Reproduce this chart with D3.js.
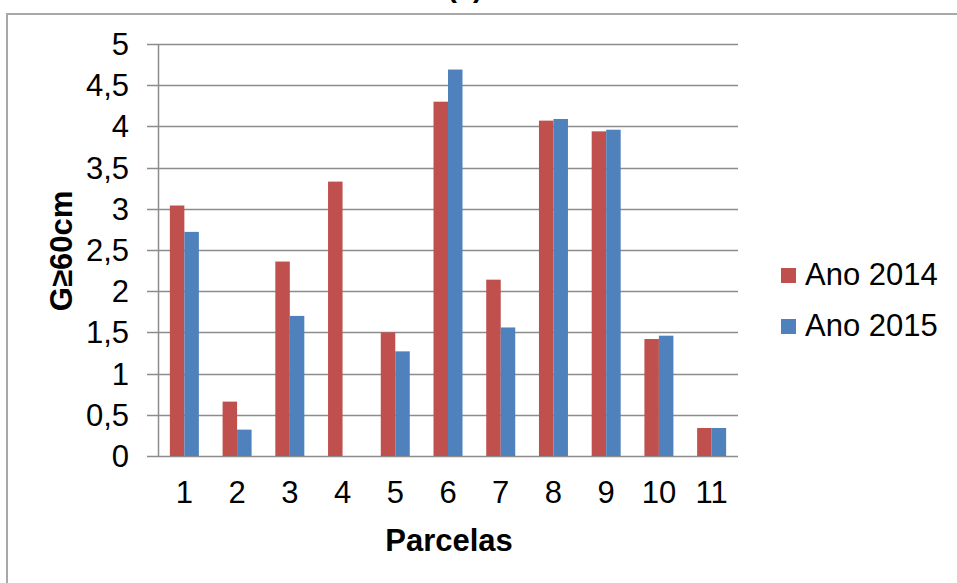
<!DOCTYPE html>
<html>
<head>
<meta charset="utf-8">
<script src="https://cdn.jsdelivr.net/npm/d3@7"></script>
<style>
    body { margin: 0; background: #fff; }
    svg { display: block; }
    text { font-family: "Liberation Sans", Arial, sans-serif; fill: #000; }
</style>
</head>
<body>
<div id="chart"></div>
<script>

// values
let parcelas = ["1", "2", "3", "4", "5", "6", "7", "8", "9", "10", "11"];
let ano2014 = [3.04, 0.66, 2.36, 3.33, 1.50, 4.30, 2.14, 4.07, 3.94, 1.42, 0.34];
let ano2015 = [2.72, 0.32, 1.70, 0, 1.27, 4.69, 1.56, 4.09, 3.96, 1.46, 0.34];
let seriesNames = ["Ano 2014", "Ano 2015"];
let seriesColors = ["#C0504D", "#4F81BD"];
let yTicks = [0, 0.5, 1, 1.5, 2, 2.5, 3, 3.5, 4, 4.5, 5];

class GroupedBars {
    constructor(_parentElement) {
        this.parentElement = _parentElement;
        this.initVis();
    }

    initVis() {
        let vis = this;

        vis.width = 957;
        vis.height = 583;

        vis.svg = d3.select("#" + vis.parentElement).append("svg")
            .attr("width", vis.width)
            .attr("height", vis.height);

        // outer frame of the chart area (only top & left show)
        vis.svg.append("path")
            .attr("d", "M7,590 L7,14 L960,14")
            .attr("fill", "none")
            .attr("stroke", "#a8a8a8")
            .attr("stroke-width", 2);

        // title, mostly cropped at the top edge
        vis.svg.append("text")
            .attr("x", 465)
            .attr("y", -3)
            .attr("text-anchor", "middle")
            .attr("font-size", 29)
            .attr("font-weight", "bold")
            .text("(a)");

        vis.plot = {left: 158, right: 738, top: 44, bottom: 456};

        vis.x = d3.scaleBand()
            .domain(parcelas)
            .range([vis.plot.left, vis.plot.right])
            .paddingInner(0.45)
            .paddingOuter(0.225);

        vis.xSub = d3.scaleBand()
            .domain(seriesNames)
            .range([0, vis.x.bandwidth()]);

        vis.y = d3.scaleLinear()
            .domain([0, 5])
            .range([vis.plot.bottom, vis.plot.top]);

        vis.updateVis();
    }

    updateVis() {
        let vis = this;

        // gridlines with ticks poking out left
        vis.svg.append("g")
            .selectAll("line")
            .data(yTicks)
            .enter()
            .append("line")
            .attr("x1", vis.plot.left - 11)
            .attr("x2", vis.plot.right)
            .attr("y1", d => Math.round(vis.y(d)) + 0.5)
            .attr("y2", d => Math.round(vis.y(d)) + 0.5)
            .attr("stroke", "#8c8c8c")
            .attr("stroke-width", 1.5);

        // y axis line
        vis.svg.append("line")
            .attr("x1", vis.plot.left + 0.5)
            .attr("x2", vis.plot.left + 0.5)
            .attr("y1", vis.plot.top)
            .attr("y2", vis.plot.bottom)
            .attr("stroke", "#8c8c8c")
            .attr("stroke-width", 1.5);

        // y tick labels
        vis.svg.append("g")
            .selectAll("text")
            .data(yTicks)
            .enter()
            .append("text")
            .attr("x", 129)
            .attr("y", d => vis.y(d) + 11)
            .attr("text-anchor", "end")
            .attr("font-size", 31)
            .text(d => String(d).replace(".", ","));

        // bars
        let rows = parcelas.map((p, i) => ({parcela: p, values: [ano2014[i], ano2015[i]]}));

        let groups = vis.svg.append("g")
            .selectAll("g")
            .data(rows)
            .enter()
            .append("g")
            .attr("transform", d => "translate(" + vis.x(d.parcela) + ",0)");

        groups.selectAll("rect")
            .data(d => d.values.map((v, j) => ({name: seriesNames[j], value: v, color: seriesColors[j]})))
            .enter()
            .append("rect")
            .attr("x", d => vis.xSub(d.name))
            .attr("y", d => vis.y(d.value))
            .attr("width", vis.xSub.bandwidth())
            .attr("height", d => vis.y(0) - vis.y(d.value))
            .attr("fill", d => d.color);

        // x tick labels
        vis.svg.append("g")
            .selectAll("text")
            .data(parcelas)
            .enter()
            .append("text")
            .attr("x", d => vis.x(d) + vis.x.bandwidth() / 2)
            .attr("y", 503)
            .attr("text-anchor", "middle")
            .attr("font-size", 31)
            .text(d => d);

        // axis titles
        vis.svg.append("text")
            .attr("x", 449)
            .attr("y", 551)
            .attr("text-anchor", "middle")
            .attr("font-size", 31)
            .attr("font-weight", "bold")
            .text("Parcelas");

        vis.svg.append("text")
            .attr("transform", "translate(72,251) rotate(-90)")
            .attr("text-anchor", "middle")
            .attr("font-size", 31)
            .attr("font-weight", "bold")
            .text("G≥60cm");

        // legend
        let legend = vis.svg.append("g")
            .selectAll("g")
            .data(seriesNames)
            .enter()
            .append("g")
            .attr("transform", (d, i) => "translate(781," + (268 + i * 51) + ")");

        legend.append("rect")
            .attr("width", 15)
            .attr("height", 15)
            .attr("fill", (d, i) => seriesColors[i]);

        legend.append("text")
            .attr("x", 24)
            .attr("y", 17)
            .attr("font-size", 31)
            .text(d => d);
    }
}

let myChart = new GroupedBars("chart");
</script>
</body>
</html>
